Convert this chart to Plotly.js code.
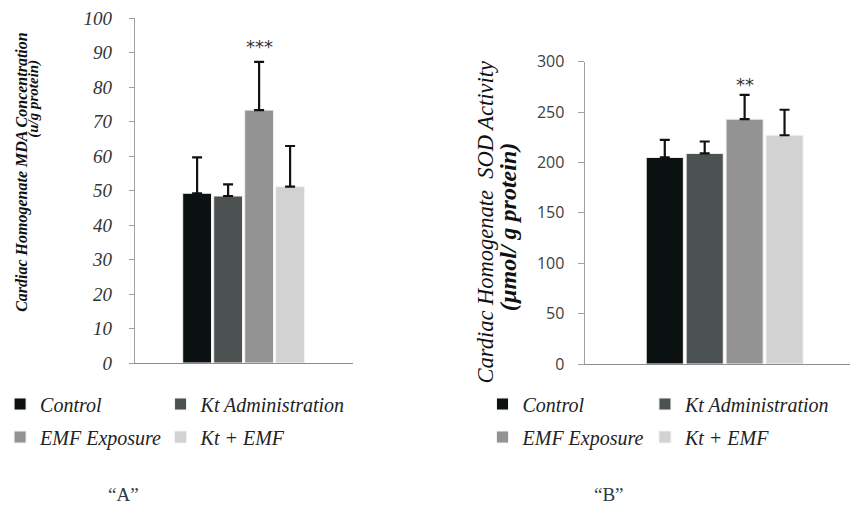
<!DOCTYPE html>
<html><head><meta charset="utf-8">
<script src="https://cdn.plot.ly/plotly-3.0.1.min.js"></script>
<style>html,body{margin:0;padding:0;background:#fff}#chart{width:852px;height:508px}</style>
</head><body><div id="chart"></div>
<script>
// ---- data ----
const categories = ['Control', 'Kt Administration', 'EMF Exposure', 'Kt + EMF'];
const barColors = ['#0b1110', '#4c5251', '#939393', '#d2d2d2'];
const mdaMean = [49.2, 48.4, 73.3, 51.1];
const mdaErr = [10.4, 3.4, 14.0, 11.8];
const sodMean = [205, 209, 243, 227];
const sodErr = [17.5, 11.8, 24, 25.3];
const mdaSig = ['', '', '***', ''];
const sodSig = ['', '', '**', ''];
const mdaTicks = [0, 10, 20, 30, 40, 50, 60, 70, 80, 90, 100];
const sodTicks = [0, 50, 100, 150, 200, 250, 300];
const panelLabels = ['\u201CA\u201D', '\u201CB\u201D'];

// ---- helpers ----
const W = 852, H = 508;
const px = v => v / W;
const py = v => 1 - v / H;
const SERIF = '"Liberation Serif", "Times New Roman", serif';

const traces = [];
const legendPos = {};
const legendCols = [[-8, 154], [479, 643]];
const legendRows = [404, 437];

function addPanel(means, errs, xa, ya, panel) {
  means.forEach((m, i) => {
    const n = panel * 4 + i;
    const lname = 'legend' + (n === 0 ? '' : (n + 1));
    traces.push({
      type: 'bar', name: categories[i], x: [categories[i]], y: [m],
      xaxis: xa, yaxis: ya, width: 0.93,
      marker: {color: barColors[i], line: {color: '#f2f2f2', width: 1}},
      error_y: {type: 'data', symmetric: false, array: [errs[i]], arrayminus: [0],
                color: '#111111', thickness: 2.2, width: 5},
      legend: lname, showlegend: true, hoverinfo: 'skip'
    });
    legendPos[lname] = {col: legendCols[panel][i % 2], row: legendRows[Math.floor(i / 2)]};
  });
}
addPanel(mdaMean, mdaErr, 'x', 'y', 0);
addPanel(sodMean, sodErr, 'x2', 'y2', 1);

const layout = {
  width: W, height: H,
  margin: {l: 0, r: 0, t: 0, b: 0},
  font: {family: SERIF, style: 'italic', size: 19, color: '#222222'},
  paper_bgcolor: '#ffffff', plot_bgcolor: 'rgba(0,0,0,0)',
  barmode: 'overlay',
  showlegend: true,
  xaxis: {domain: [px(128), px(348)], type: 'category', categoryarray: categories,
          range: [-2.01, 5.02], showline: true, linecolor: '#8c8c8c', linewidth: 1,
          showticklabels: false, ticks: '', showgrid: false, zeroline: false, anchor: 'y'},
  yaxis: {domain: [1 - 363 / H, 1 - 18 / H], range: [0, 100], tickvals: mdaTicks,
          showline: true, linecolor: '#a0a0a0', linewidth: 1, ticks: 'outside', ticklen: 5,
          tickcolor: '#a0a0a0', showgrid: false, zeroline: false, anchor: 'x',
          ticklabelstandoff: 13,
          tickfont: {family: SERIF, style: 'italic', size: 19, color: '#333333'}},
  xaxis2: {domain: [px(582), px(850)], type: 'category', categoryarray: categories,
           range: [-2.01, 4.64], showline: true, linecolor: '#8c8c8c', linewidth: 1,
           showticklabels: false, ticks: '', showgrid: false, zeroline: false, anchor: 'y2'},
  yaxis2: {domain: [1 - 364 / H, 1 - 61.7 / H], range: [0, 300], tickvals: sodTicks,
           showline: true, linecolor: '#a0a0a0', linewidth: 1, ticks: 'outside', ticklen: 6,
           tickcolor: '#a0a0a0', showgrid: false, zeroline: false, anchor: 'x2',
           ticklabelstandoff: 10,
           tickfont: {family: '"Open Sans", sans-serif', style: 'normal', size: 16, color: '#404040'}},
  annotations: []
};

Object.keys(legendPos).forEach(k => {
  layout[k] = {
    x: px(legendPos[k].col), xanchor: 'left', y: py(legendPos[k].row), yanchor: 'middle',
    orientation: 'v', bgcolor: 'rgba(0,0,0,0)', borderwidth: 0,
    font: {family: SERIF, style: 'italic', size: 20, color: '#222222'}
  };
});

// significance marks
mdaSig.forEach((s, i) => {
  if (s) layout.annotations.push({x: categories[i], y: mdaMean[i] + mdaErr[i], xref: 'x', yref: 'y',
    text: s, showarrow: false, yanchor: 'bottom', yshift: 3,
    font: {family: 'DejaVu Sans, sans-serif', style: 'normal', size: 18, color: '#333333'}});
});
sodSig.forEach((s, i) => {
  if (s) layout.annotations.push({x: categories[i], y: sodMean[i] + sodErr[i], xref: 'x2', yref: 'y2',
    text: s, showarrow: false, yanchor: 'bottom', yshift: -2,
    font: {family: 'DejaVu Sans, sans-serif', style: 'normal', size: 18, color: '#333333'}});
});

// axis titles (as rotated annotations)
layout.annotations.push(
  {x: px(14), y: py(172), xref: 'paper', yref: 'paper', textangle: -90, showarrow: false,
   text: 'Cardiac Homogenate MDA Concentration', xanchor: 'center', yanchor: 'middle',
   font: {family: SERIF, style: 'italic', weight: 'bold', size: 16, color: '#111111'}},
  {x: px(25), y: py(99), xref: 'paper', yref: 'paper', textangle: -90, showarrow: false,
   text: '(u/g protein)', xanchor: 'center', yanchor: 'middle',
   font: {family: SERIF, style: 'italic', weight: 'bold', size: 15, color: '#111111'}},
  {x: px(482), y: py(222), xref: 'paper', yref: 'paper', textangle: -90, showarrow: false,
   text: 'Cardiac Homogenate  SOD Activity', xanchor: 'center', yanchor: 'middle',
   font: {family: SERIF, style: 'italic', size: 22.5, color: '#111111'}},
  {x: px(505), y: py(227), xref: 'paper', yref: 'paper', textangle: -90, showarrow: false,
   text: '(\u00B5mol/ g protein)', xanchor: 'center', yanchor: 'middle',
   font: {family: SERIF, style: 'italic', weight: 'bold', size: 24, color: '#111111'}},
  {x: px(117), y: py(494), xref: 'paper', yref: 'paper', showarrow: false,
   text: panelLabels[0], xanchor: 'center', yanchor: 'middle',
   font: {family: SERIF, style: 'normal', size: 19, color: '#2a3a48'}},
  {x: px(607), y: py(494), xref: 'paper', yref: 'paper', showarrow: false,
   text: panelLabels[1], xanchor: 'center', yanchor: 'middle',
   font: {family: SERIF, style: 'normal', size: 19, color: '#2a3a48'}}
);

Plotly.newPlot('chart', traces, layout, {displayModeBar: false, staticPlot: true});
</script>
</body></html>
